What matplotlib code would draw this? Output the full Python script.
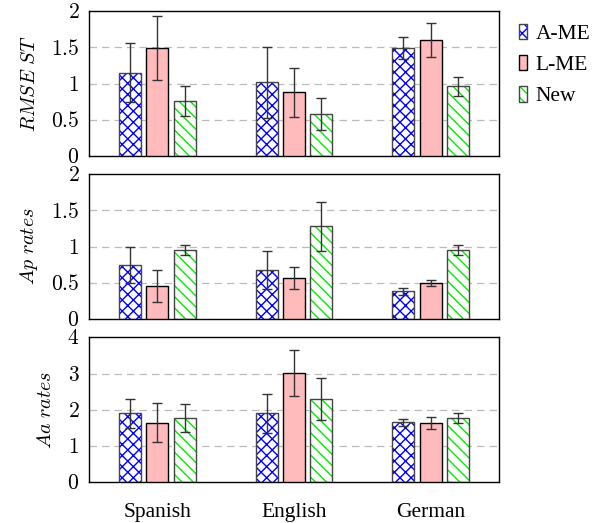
import numpy as np
import matplotlib
matplotlib.use("Agg")
import matplotlib.pyplot as plt
import matplotlib.patches as mpatches
from matplotlib.ticker import FixedLocator, FuncFormatter
from matplotlib.legend_handler import HandlerTuple

languages = ["Spanish", "English", "German"]
methods = ["A-ME", "L-ME", "New"]

rmse_mean = [[1.15, 1.02, 1.49], [1.49, 0.88, 1.60], [0.76, 0.58, 0.96]]
rmse_err = [[0.41, 0.49, 0.15], [0.44, 0.34, 0.23], [0.21, 0.22, 0.13]]
ap_mean = [[0.75, 0.68, 0.38], [0.45, 0.57, 0.50], [0.95, 1.28, 0.95]]
ap_err = [[0.25, 0.26, 0.05], [0.22, 0.15, 0.045], [0.07, 0.34, 0.07]]
aa_mean = [[1.90, 1.90, 1.66], [1.65, 3.02, 1.63], [1.78, 2.29, 1.78]]
aa_err = [[0.41, 0.53, 0.10], [0.53, 0.64, 0.165], [0.39, 0.58, 0.14]]

ylabels = [r"$RMSE\ ST$", r"$Ap\ rates$", r"$Aa\ rates$"]
yticks = [[0, 0.5, 1, 1.5, 2], [0, 0.5, 1, 1.5, 2], [0, 1, 2, 3, 4]]

plt.rcParams["font.family"] = ["Liberation Serif", "DejaVu Serif"]
plt.rcParams["mathtext.fontset"] = "cm"
plt.rcParams["hatch.linewidth"] = 1.0

# fill / hatch colour / hatch pattern per method
styles = [("white", "#0000ff", "xxx"), ("#ffbbbb", None, None), ("white", "#00ee00", "\\\\\\")]
EDGE = "#444444"
W = 0.16
OFFS = [-0.2, 0.0, 0.2]
FS = 15.5

fig = plt.figure(figsize=(6.03, 5.23), dpi=100)
rects = [[0.1476, 0.7017, 0.680, 0.2772],
         [0.1476, 0.3900, 0.680, 0.2772],
         [0.1476, 0.0778, 0.680, 0.2772]]

x = np.arange(len(languages))
panels = [(rmse_mean, rmse_err), (ap_mean, ap_err), (aa_mean, aa_err)]

for k, (means, errs) in enumerate(panels):
    ax = fig.add_axes(rects[k])
    for i in range(3):
        face, hcol, hatch = styles[i]
        xs = x + OFFS[i]
        if hatch:
            ax.bar(xs, means[i], W, color=face, edgecolor=hcol, hatch=hatch,
                   linewidth=0, zorder=2)
            ax.bar(xs, means[i], W, fill=False, edgecolor=EDGE, linewidth=1.0, zorder=3)
        else:
            ax.bar(xs, means[i], W, color=face, edgecolor="black", linewidth=1.0, zorder=3)
        ax.errorbar(xs, means[i], yerr=errs[i], fmt="none", ecolor="#333333",
                    elinewidth=1.0, capsize=3.8, capthick=1.0, zorder=4)
    ax.set_xlim(-0.5, 2.5)
    ax.set_ylim(yticks[k][0], yticks[k][-1])
    ax.yaxis.set_major_locator(FixedLocator(yticks[k]))
    ax.yaxis.set_major_formatter(FuncFormatter(lambda v, p: "$%g$" % v))
    for t in yticks[k][1:-1]:
        ax.axhline(t, color="#bbbbbb", lw=0.9, ls=(0, (6, 4)), zorder=1)
    ax.tick_params(axis="y", length=0, labelsize=FS, pad=7)
    ax.tick_params(axis="x", length=0)
    ax.set_xticks(x)
    if k == 2:
        ax.set_xticklabels(languages, fontsize=FS)
        ax.tick_params(axis="x", pad=15)
    else:
        ax.set_xticklabels([])
    ax.set_ylabel(ylabels[k], fontsize=14.5, labelpad=8)
    for s in ax.spines.values():
        s.set_linewidth(1.0)

handles = []
for i in range(3):
    face, hcol, hatch = styles[i]
    if hatch:
        h1 = mpatches.Patch(facecolor=face, edgecolor=hcol, hatch=hatch, linewidth=0)
        h2 = mpatches.Patch(fill=False, edgecolor=EDGE, linewidth=1.0)
        handles.append((h1, h2))
    else:
        handles.append(mpatches.Patch(facecolor=face, edgecolor="black", linewidth=1.0))

fig.legend(handles, methods, loc="upper left", bbox_to_anchor=(0.860, 0.955),
           frameon=False, fontsize=FS, handlelength=0.4, handleheight=0.75,
           handletextpad=0.4, labelspacing=0.5, borderpad=0, borderaxespad=0,
           handler_map={tuple: HandlerTuple(ndivide=1, pad=0)})

fig.savefig("out.png", dpi=100)
